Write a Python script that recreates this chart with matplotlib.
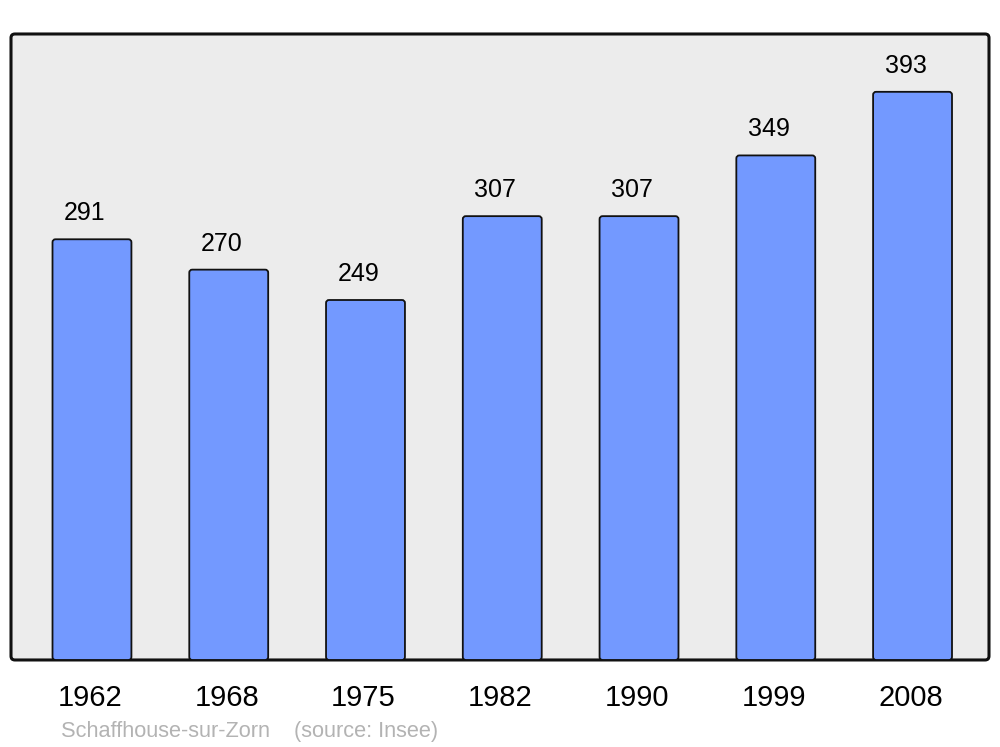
import matplotlib
matplotlib.use("Agg")
import matplotlib.pyplot as plt
import matplotlib.transforms as mtransforms
from matplotlib.patches import FancyBboxPatch

plt.rcParams['font.family'] = ['Liberation Sans', 'DejaVu Sans']

# Data
years = ["1962", "1968", "1975", "1982", "1990", "1999", "2008"]
population = [291, 270, 249, 307, 307, 349, 393]
footer = "Schaffhouse-sur-Zorn    (source: Insee)"

fig = plt.figure(figsize=(10, 7.47), dpi=100)
ax = fig.add_axes([0.011, 0.1165, 0.978, 0.838])
ax.set_facecolor("none")

# rounded grey background with black frame
frame = FancyBboxPatch((0, 0), 1, 1, transform=ax.transAxes,
                       boxstyle="round,pad=0,rounding_size=0.004",
                       mutation_aspect=1.56,
                       facecolor="#ececec", edgecolor="#111111",
                       linewidth=2.2, zorder=0, clip_on=False)
ax.add_patch(frame)

x = list(range(len(years)))
bars = ax.bar(x, population, width=0.577, color="#7399ff",
              edgecolor="#111111", linewidth=1.3, zorder=2)

# swap plain rectangles for slightly rounded ones
for b in bars:
    b.set_visible(False)
    rb = FancyBboxPatch((b.get_x(), b.get_y()), b.get_width(), b.get_height(),
                        boxstyle="round,pad=0,rounding_size=0.022",
                        mutation_aspect=94, facecolor="#7399ff",
                        edgecolor="#111111", linewidth=1.3, zorder=2)
    ax.add_patch(rb)

for xi, v in zip(x, population):
    ax.annotate(str(v), (xi, v), xytext=(-7, 26), textcoords="offset pixels",
                ha="center", va="center", fontsize=18, color="black")

ax.set_xlim(-0.592, 6.559)
ax.set_ylim(0, 433)
ax.set_xticks(x)
ax.set_xticklabels(years, fontsize=21)
ax.tick_params(axis="x", length=0, pad=17)
shift = mtransforms.ScaledTranslation(-2 / 100, 0, fig.dpi_scale_trans)
for lbl in ax.get_xticklabels():
    lbl.set_transform(lbl.get_transform() + shift)
ax.set_yticks([])
for s in ax.spines.values():
    s.set_visible(False)

fig.text(0.061, 1 - 731 / 747, footer, fontsize=15.7, color="#b3b3b3",
         ha="left", va="center")

fig.savefig("out.png", dpi=100)
